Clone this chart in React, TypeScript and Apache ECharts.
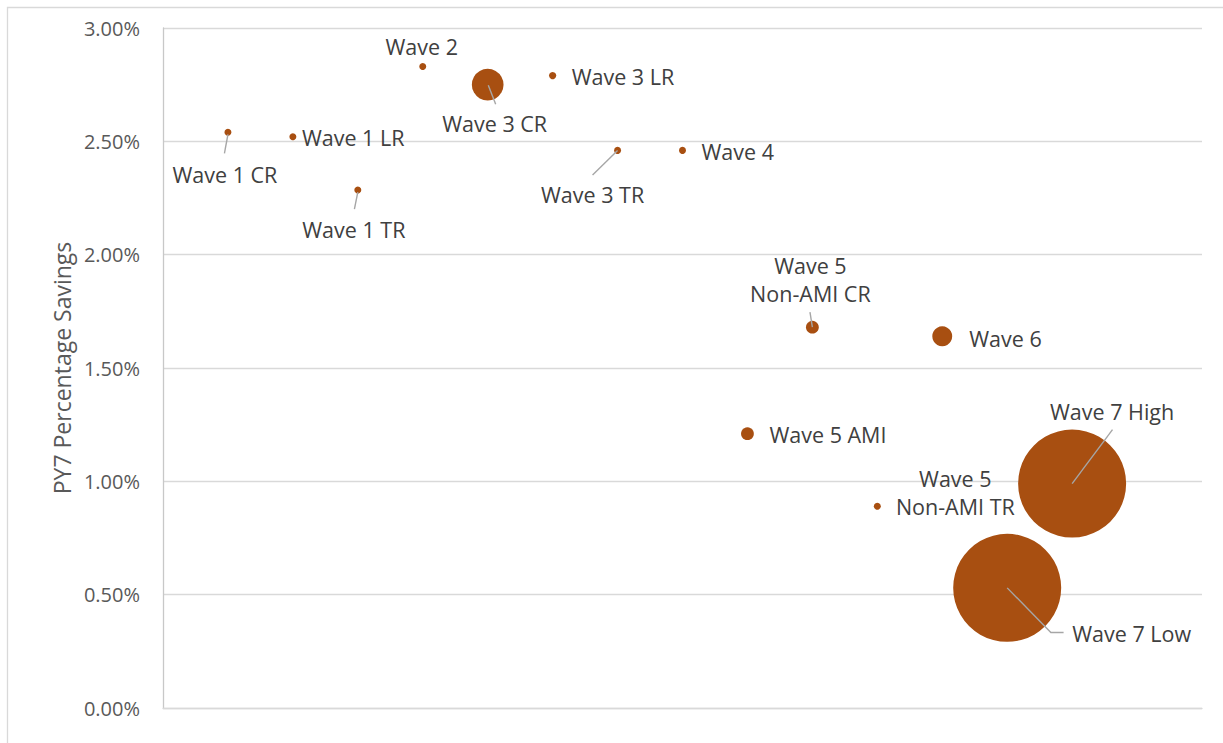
import { useEffect, useRef } from "react";
import * as echarts from "echarts";

// Program waves, in the order they sit along the horizontal axis
const waveNames = [
  "Wave 1 CR",
  "Wave 1 LR",
  "Wave 1 TR",
  "Wave 2",
  "Wave 3 CR",
  "Wave 3 LR",
  "Wave 3 TR",
  "Wave 4",
  "Wave 5 AMI",
  "Wave 5\nNon-AMI CR",
  "Wave 5\nNon-AMI TR",
  "Wave 6",
  "Wave 7 Low",
  "Wave 7 High",
];
const wavePosition = [1, 2, 3, 4, 5, 6, 7, 8, 9, 10, 11, 12, 13, 14];
// PY7 percentage savings (%)
const savingsPct = [2.54, 2.52, 2.285, 2.83, 2.75, 2.79, 2.46, 2.46, 1.21, 1.68, 0.89, 1.64, 0.53, 0.99];
// Relative bubble size (share of the largest wave)
const bubbleSize = [0.42, 0.42, 0.42, 0.42, 8.6, 0.45, 0.42, 0.42, 1.4, 1.4, 0.42, 3.4, 100, 100];

const yMin = 0;
const yMax = 3;
const yStep = 0.5;

// Label placement around each bubble, in pixels relative to the bubble centre
type Placement = { dx: number; dy: number; align: "left" | "center"; leader?: number[][] };
const labelPlacement: Placement[] = [
  { dx: -3, dy: 42, align: "center", leader: [[0, 2], [-3.5, 21]] },
  { dx: 9, dy: 1, align: "left" },
  { dx: -4, dy: 39, align: "center", leader: [[0, 2], [-3.4, 19]] },
  { dx: -1, dy: -20, align: "center" },
  { dx: 7, dy: 39, align: "center", leader: [[0.6, 0.7], [8, 19.7]] },
  { dx: 19, dy: 1, align: "left" },
  { dx: -25, dy: 44, align: "center", leader: [[0, 0], [-25, 24.7]] },
  { dx: 19, dy: 1, align: "left" },
  { dx: 22, dy: 1, align: "left" },
  { dx: -2, dy: -47.5, align: "center", leader: [[-2.4, -15], [0, 0]] },
  { dx: 78, dy: -14, align: "center" },
  { dx: 27, dy: 2, align: "left" },
  { dx: 65, dy: 46, align: "left", leader: [[0, 0], [43.7, 44.6], [56.4, 44.6]] },
  { dx: 40, dy: -72, align: "center", leader: [[0, 0], [40.4, -54]] },
];

const BUBBLE = "#A84F11";
const FONT = "'Open Sans', 'Noto Sans', sans-serif";
const MAX_DIAMETER = 108;
const maxSize = Math.max(...bubbleSize);

export default function App() {
  const ref = useRef<HTMLDivElement>(null);

  useEffect(() => {
    if (!ref.current) return;
    const chart = echarts.init(ref.current, null, { renderer: "svg" });

    const points = wavePosition.map((x, i) => [x, savingsPct[i], bubbleSize[i]]);

    chart.setOption({
      animation: false,
      backgroundColor: "#ffffff",
      graphic: [
        {
          type: "rect",
          shape: { x: 7.5, y: 7.5, width: 1400, height: 900 },
          style: { fill: "none", stroke: "#d9d9d9", lineWidth: 1.3 },
          silent: true,
          z: -10,
        },
      ],
      grid: { left: 163, top: 28, right: 21, bottom: 35 },
      xAxis: {
        type: "value",
        min: 0,
        max: 16,
        axisLabel: { show: false },
        axisTick: { show: false },
        splitLine: { show: false },
        axisLine: { show: true, lineStyle: { color: "#d9d9d9", width: 1.3 } },
      },
      yAxis: {
        type: "value",
        min: yMin,
        max: yMax,
        interval: yStep,
        name: "PY7 Percentage Savings",
        nameLocation: "middle",
        nameGap: 90,
        nameTextStyle: { color: "#595959", fontSize: 23, fontFamily: FONT },
        axisLine: { show: true, lineStyle: { color: "#c8c8c8", width: 1.3 } },
        axisTick: { show: false },
        splitLine: { lineStyle: { color: "#d9d9d9", width: 1.3 } },
        axisLabel: {
          color: "#595959",
          fontSize: 20,
          fontFamily: FONT,
          margin: 23,
          formatter: (v: number) => v.toFixed(2) + "%",
        },
      },
      series: [
        {
          type: "scatter",
          data: points,
          symbolSize: (v: number[]) => MAX_DIAMETER * Math.sqrt(v[2] / maxSize),
          itemStyle: { color: BUBBLE, opacity: 1 },
          z: 2,
        },
        {
          type: "custom",
          data: points,
          clip: false,
          silent: true,
          z: 3,
          encode: { x: 0, y: 1 },
          renderItem: (params: any, api: any) => {
            const i = params.dataIndex;
            const [px, py] = api.coord([api.value(0), api.value(1)]);
            const p = labelPlacement[i];
            const children: any[] = [];
            if (p.leader) {
              children.push({
                type: "polyline",
                shape: { points: p.leader.map(([a, b]) => [px + a, py + b]) },
                style: { stroke: "#a6a6a6", lineWidth: 1.4, fill: null },
              });
            }
            children.push({
              type: "text",
              x: px + p.dx,
              y: py + p.dy,
              style: {
                text: waveNames[i],
                fill: "#404040",
                fontSize: 21.5,
                fontFamily: FONT,
                align: p.align,
                verticalAlign: "middle",
                lineHeight: 28,
              },
            });
            return { type: "group", children };
          },
        },
      ],
    });

    return () => chart.dispose();
  }, []);

  return (
    <div
      ref={ref}
      style={{ position: "fixed", left: 0, top: 0, width: 1223, height: 743, background: "#fff" }}
    />
  );
}
